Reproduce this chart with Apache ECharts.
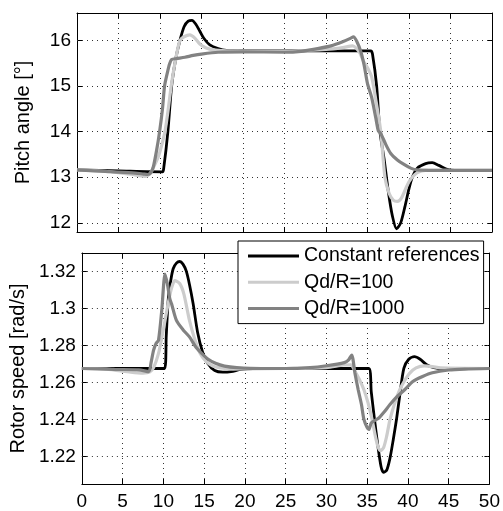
<!DOCTYPE html>
<html>
<head>
<meta charset="utf-8">
<script src="https://cdn.jsdelivr.net/npm/echarts@6/dist/echarts.min.js"></script>
<style>html,body{margin:0;padding:0;background:#fff}#c{width:503px;height:511px}</style>
</head>
<body>
<div id="c"></div>
<script>
// ---- data ----
const seriesNames = ['Constant references', 'Qd/R=100', 'Qd/R=1000'];
const xTicks = [0, 5, 10, 15, 20, 25, 30, 35, 40, 45, 50];
const pitchTicks = [12, 13, 14, 15, 16];
const speedTicks = [1.22, 1.24, 1.26, 1.28, 1.3, 1.32];

// Pitch angle, constant references
const pitchConstT = [0, 5, 10.3, 10.45, 10.95, 11.4, 11.9, 12.4, 12.9, 13.4, 13.85, 14.3, 14.8, 15.3, 16, 17, 18, 20, 35.4, 35.6, 36.1, 36.5, 37.0, 37.5, 38.0, 38.5, 39.0, 39.5, 40.0, 40.4, 41.0, 42.0, 42.8, 43.6, 44.5, 45.5, 50];
const pitchConstV = [13.16, 13.14, 13.12, 13.2, 14.0, 15.0, 15.6, 16.0, 16.3, 16.42, 16.44, 16.36, 16.2, 16.04, 15.9, 15.82, 15.78, 15.77, 15.77, 15.7, 15.0, 14.0, 13.4, 12.7, 12.15, 11.87, 12.0, 12.35, 12.75, 13.0, 13.2, 13.3, 13.32, 13.26, 13.18, 13.15, 13.15];
// Pitch angle, Qd/R=100
const pitch100T = [0, 4, 7, 8.3, 8.8, 9.3, 9.8, 10.2, 10.6, 11.0, 11.35, 11.9, 12.4, 12.9, 13.6, 14.2, 14.8, 15.5, 16.5, 18, 20, 25, 30, 32, 33.2, 34.0, 34.5, 35.0, 35.5, 36.0, 36.6, 37.1, 37.6, 38.1, 38.6, 39.1, 39.6, 40.0, 40.4, 41, 42, 43, 50];
const pitch100V = [13.16, 13.12, 13.05, 13.02, 13.08, 13.25, 13.45, 13.7, 14.0, 14.5, 15.0, 15.6, 16.0, 16.08, 16.12, 16.05, 15.92, 15.84, 15.79, 15.77, 15.76, 15.76, 15.8, 15.84, 15.88, 15.75, 15.55, 15.4, 15.2, 14.7, 14.0, 13.0, 12.65, 12.5, 12.47, 12.55, 12.75, 12.9, 13.0, 13.1, 13.15, 13.15, 13.15];
// Pitch angle, Qd/R=1000
const pitch1000T = [0, 4, 7, 8.0, 8.5, 8.9, 9.2, 9.6, 9.95, 10.3, 10.55, 10.9, 11.15, 11.4, 12, 13, 14, 15, 17, 20, 25, 27, 29, 30.6, 32, 33.0, 33.3, 33.7, 34.2, 34.6, 35.0, 35.5, 36.0, 36.3, 36.6, 37.2, 37.8, 38.6, 39.4, 40.2, 41, 43, 50];
const pitch1000V = [13.16, 13.12, 13.09, 13.07, 13.06, 13.1, 13.23, 13.6, 14.0, 14.5, 15.0, 15.3, 15.48, 15.58, 15.6, 15.63, 15.67, 15.7, 15.74, 15.75, 15.74, 15.76, 15.82, 15.88, 15.97, 16.05, 16.08, 15.98, 15.75, 15.45, 15.05, 14.75, 14.3, 14.02, 13.96, 13.72, 13.52, 13.38, 13.28, 13.2, 13.16, 13.15, 13.15];

// Rotor speed, constant references
const speedConstT = [0, 5, 10.15, 10.35, 10.6, 10.9, 11.2, 11.6, 12.0, 12.4, 12.8, 13.2, 13.65, 14.2, 14.8, 15.4, 16.3, 17.3, 18.3, 19.5, 21, 35.2, 35.5, 35.9, 36.3, 36.7, 37.0, 37.4, 37.8, 38.2, 38.6, 39.0, 39.5, 40.1, 40.8, 41.5, 42.3, 43.2, 44.2, 50];
const speedConstV = [1.2675, 1.2675, 1.2675, 1.285, 1.305, 1.315, 1.3215, 1.3245, 1.3254, 1.324, 1.3203, 1.313, 1.3025, 1.287, 1.2765, 1.2705, 1.2664, 1.2655, 1.2658, 1.267, 1.2675, 1.2675, 1.255, 1.24, 1.226, 1.2145, 1.2113, 1.2125, 1.219, 1.229, 1.24, 1.253, 1.2676, 1.2725, 1.2739, 1.2725, 1.2695, 1.268, 1.2675, 1.2675];
// Rotor speed, Qd/R=100
const speed100T = [0, 3, 6, 7.5, 8.3, 8.8, 9.4, 9.8, 10.2, 10.6, 11.0, 11.4, 12.0, 12.5, 13.2, 13.8, 14.5, 15.2, 16, 17, 18.5, 20, 25, 30, 32.1, 33.0, 33.5, 34.0, 34.6, 35.1, 35.6, 36.0, 36.3, 36.6, 37.0, 37.4, 37.8, 38.4, 39.0, 39.6, 40.2, 41.0, 42.0, 43, 44, 50];
const speed100V = [1.2675, 1.2672, 1.2655, 1.265, 1.2655, 1.268, 1.2757, 1.284, 1.2935, 1.303, 1.311, 1.315, 1.3135, 1.308, 1.2935, 1.284, 1.2757, 1.2715, 1.269, 1.2678, 1.2672, 1.2673, 1.2675, 1.268, 1.2694, 1.2695, 1.266, 1.262, 1.256, 1.249, 1.24, 1.231, 1.2255, 1.223, 1.2245, 1.231, 1.24, 1.249, 1.256, 1.261, 1.2649, 1.2678, 1.2689, 1.2685, 1.2678, 1.2675];
// Rotor speed, Qd/R=1000
const speed1000T = [0, 4, 7, 8.2, 8.5, 8.8, 9.1, 9.4, 9.8, 10.2, 10.5, 10.8, 11.0, 11.6, 12.4, 13.2, 14.0, 14.7, 15.5, 16.4, 17.5, 19, 22, 25, 28, 30, 32.2, 32.7, 33.1, 33.5, 33.9, 34.3, 34.6, 35.0, 35.2, 35.5, 36.0, 36.5, 37.0, 37.8, 38.6, 39.6, 40.6, 41.8, 43.0, 45, 47, 50];
const speed1000V = [1.2675, 1.267, 1.2668, 1.2658, 1.271, 1.2774, 1.281, 1.2828, 1.299, 1.3186, 1.313, 1.305, 1.3025, 1.2935, 1.2885, 1.2846, 1.279, 1.2757, 1.2725, 1.2703, 1.2688, 1.268, 1.2675, 1.2675, 1.268, 1.269, 1.2707, 1.272, 1.2748, 1.265, 1.256, 1.248, 1.24, 1.2355, 1.2345, 1.238, 1.2395, 1.241, 1.2435, 1.248, 1.252, 1.256, 1.2605, 1.2632, 1.2652, 1.2667, 1.2672, 1.2675];

// ---- chart ----
const zip = (t, v) => t.map((x, i) => [x, v[i]]);
const colors = ['#000000', '#cccccc', '#828282'];
const widths = [2.8, 3.2, 3.2];
const FONT = '"Liberation Sans", Arial, sans-serif';
const FS = 19;
const gridStyle = { color: '#333', type: [1, 4], width: 1 };

function xAx(grid, showLabels, pos) {
  return {
    type: 'value', gridIndex: grid, min: 0, max: 50, interval: 5, position: pos,
    axisLine: { show: true, onZero: false, lineStyle: { color: '#000', width: 1 } },
    axisTick: { show: true, inside: true, length: 5, lineStyle: { color: '#000' } },
    axisLabel: { show: showLabels, color: '#000', fontSize: FS, fontFamily: FONT, margin: 8 },
    splitLine: { show: pos === 'bottom', lineStyle: gridStyle }
  };
}
function yAx(grid, min, max, ticks, pos, name, showLabels) {
  return {
    type: 'value', gridIndex: grid, min, max, position: pos,
    name: name, nameLocation: 'middle', nameGap: 44,
    nameTextStyle: { color: '#000', fontSize: 20, fontFamily: FONT },
    axisLine: { show: true, onZero: false, lineStyle: { color: '#000', width: 1 } },
    axisTick: { show: true, inside: true, length: 5, customValues: ticks, lineStyle: { color: '#000' } },
    axisLabel: { show: showLabels, customValues: ticks, color: '#000', fontSize: FS, fontFamily: FONT, margin: 6,
      formatter: v => String(+v.toFixed(4)) },
    splitLine: { show: false }
  };
}
function gridMarks(ticks) {
  return {
    silent: true, symbol: 'none', z: 1, animation: false,
    label: { show: false }, lineStyle: gridStyle, emphasis: { disabled: true },
    data: ticks.map(v => ({ yAxis: v }))
  };
}

const series = [];
const pitchSets = [zip(pitchConstT, pitchConstV), zip(pitch100T, pitch100V), zip(pitch1000T, pitch1000V)];
const speedSets = [zip(speedConstT, speedConstV), zip(speed100T, speed100V), zip(speed1000T, speed1000V)];
pitchSets.forEach((d, i) => series.push({
  name: seriesNames[i], type: 'line', xAxisIndex: 0, yAxisIndex: 0, data: d, z: 3 + i,
  showSymbol: false, symbol: 'none', smooth: 0.25, animation: false,
  lineStyle: { color: colors[i], width: widths[i] }, itemStyle: { color: colors[i] },
  markLine: i === 0 ? gridMarks(pitchTicks) : undefined
}));
speedSets.forEach((d, i) => series.push({
  name: seriesNames[i], type: 'line', xAxisIndex: 2, yAxisIndex: 2, data: d, z: 3 + i,
  showSymbol: false, symbol: 'none', smooth: 0.25, animation: false,
  lineStyle: { color: colors[i], width: widths[i] }, itemStyle: { color: colors[i] },
  markLine: i === 0 ? gridMarks(speedTicks) : undefined
}));

const chart = echarts.init(document.getElementById('c'), null, { renderer: 'canvas' });
chart.setOption({
  animation: false,
  backgroundColor: '#fff',
  textStyle: { fontFamily: FONT },
  grid: [
    { left: 77, right: 11, top: 13, height: 219, containLabel: false },
    { left: 77, right: 11, top: 253, height: 233, containLabel: false }
  ],
  xAxis: [xAx(0, false, 'bottom'), xAx(0, false, 'top'), xAx(1, true, 'bottom'), xAx(1, false, 'top')],
  yAxis: [
    yAx(0, 11.8, 16.6, pitchTicks, 'left', 'Pitch angle [°]', true),
    yAx(0, 11.8, 16.6, pitchTicks, 'right', '', false),
    yAx(1, 1.205, 1.33, speedTicks, 'left', 'Rotor speed [rad/s]', true),
    yAx(1, 1.205, 1.33, speedTicks, 'right', '', false)
  ],
  legend: {
    data: seriesNames, orient: 'vertical', left: 238, top: 241,
    icon: 'rect', itemWidth: 51, itemHeight: 3, itemGap: 6.3,
    padding: [5, 4, 5, 10],
    backgroundColor: '#fff', borderColor: '#000', borderWidth: 1, z: 10,
    textStyle: { color: '#000', fontSize: 19.5, lineHeight: 20, fontFamily: FONT }
  },
  series
});
</script>
</body>
</html>
